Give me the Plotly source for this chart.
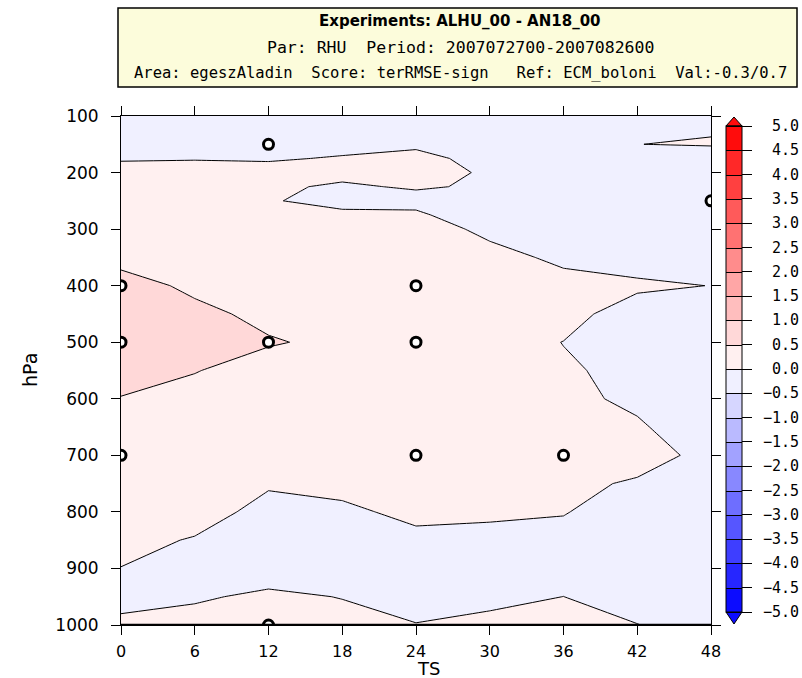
import plotly.graph_objects as go

# Forecast step (hours) and pressure levels (hPa) of the score field
ts = [0, 6, 12, 18, 24, 30, 36, 42, 48]
levels = [100, 150, 175, 200, 225, 250, 275, 300, 350, 400, 450, 500,
          550, 600, 650, 700, 750, 800, 850, 900, 950, 1000]

# terRMSE-sign score, one row per pressure level, one column per time step
score = [
    [-0.15, -0.12, -0.15, -0.15, -0.12, -0.15, -0.15, -0.10, -0.085],  # 100
    [-0.08, -0.06, -0.10, -0.06, -0.03, -0.10, -0.12, -0.003, 0.03],   # 150
    [-0.02, -0.01, -0.02, 0.015, 0.05, -0.06, -0.10, -0.08, -0.22],    # 175
    [0.08, 0.07, 0.07, 0.10, 0.12, -0.04, -0.10, -0.12, -0.15],        # 200
    [0.15, 0.13, 0.06, -0.05, 0.04, -0.05, -0.10, -0.12, -0.18],       # 225
    [0.20, 0.18, 0.025, -0.10, -0.13, -0.08, -0.12, -0.12, -0.20],     # 250
    [0.25, 0.22, 0.10, 0.067, 0.07, -0.28, -0.12, -0.12, -0.18],       # 275
    [0.30, 0.26, 0.18, 0.13, 0.12, -0.06, -0.10, -0.15, -0.15],        # 300
    [0.42, 0.35, 0.28, 0.22, 0.20, 0.08, -0.05, -0.30, -0.10],         # 350
    [0.60, 0.45, 0.36, 0.30, 0.30, 0.15, 0.08, 0.11, -0.01],           # 400
    [0.65, 0.56, 0.44, 0.38, 0.35, 0.22, 0.21, -0.30, -0.10],          # 450
    [0.65, 0.60, 0.52, 0.45, 0.35, 0.25, -0.01, -0.20, -0.15],         # 500
    [0.60, 0.51, 0.40, 0.38, 0.32, 0.25, 0.06, -0.13, -0.20],          # 550
    [0.49, 0.42, 0.34, 0.30, 0.28, 0.22, 0.10, -0.08, -0.25],          # 600
    [0.40, 0.35, 0.27, 0.22, 0.25, 0.20, 0.12, 0.05, -0.25],           # 650
    [0.35, 0.30, 0.20, 0.15, 0.20, 0.18, 0.12, 0.14, -0.10],           # 700
    [0.25, 0.22, 0.03, 0.06, 0.12, 0.12, 0.08, -0.04, -0.15],          # 750
    [0.15, 0.12, -0.09, -0.04, 0.05, 0.04, 0.01, -0.10, -0.15],        # 800
    [0.08, -0.02, -0.14, -0.12, -0.05, -0.07, -0.06, -0.12, -0.15],    # 850
    [-0.005, -0.08, -0.08, -0.08, -0.12, -0.10, -0.08, -0.12, -0.12],  # 900
    [-0.06, -0.02, 0.03, -0.005, -0.06, -0.05, 0.001, -0.10, -0.10],   # 950
    [0.04, 0.06, 0.08, 0.05, 0.005, 0.05, 0.04, 0.005, -0.10],         # 1000
]

# Points where the difference is significant
sig_ts = [12, 48, 0, 24, 0, 12, 24, 0, 24, 36, 12]
sig_p = [150, 250, 400, 400, 500, 500, 500, 700, 700, 700, 1000]

# Colour of each 0.5-wide band from -5 to 5
band_colors = [
    "#0c0cff", "#2626ff", "#3e3eff", "#5656ff", "#6e6eff",
    "#8888ff", "#a2a2ff", "#babaff", "#d6d6ff", "#f0f0ff",
    "#fff0f0", "#ffd8d8", "#ffbebe", "#ffa6a6", "#ff8c8c",
    "#ff7272", "#ff5a5a", "#ff4040", "#ff2828", "#ff0c0c",
]
cb_ticks = [-5.0, -4.5, -4.0, -3.5, -3.0, -2.5, -2.0, -1.5, -1.0, -0.5, 0.0,
            0.5, 1.0, 1.5, 2.0, 2.5, 3.0, 3.5, 4.0, 4.5, 5.0]
x_ticks = [0, 6, 12, 18, 24, 30, 36, 42, 48]
y_ticks = [100, 200, 300, 400, 500, 600, 700, 800, 900, 1000]

title_lines = [
    "<b>Experiments: ALHU_00 - AN18_00</b>",
    "Par: RHU\u00a0\u00a0Period: 2007072700-2007082600",
    "Area: egeszAladin\u00a0\u00a0Score: terRMSE-sign\u00a0\u00a0\u00a0"
    "Ref: ECM_boloni\u00a0\u00a0Val:-0.3/0.7",
]

FONT = "DejaVu Sans"
MONO = "DejaVu Sans Mono"

# stepped colour scale: one flat segment per band
n = len(band_colors)
colorscale = []
for i, c in enumerate(band_colors):
    colorscale.append([i / n, c])
    colorscale.append([(i + 1) / n, c])

# plot area in pixels inside the 802x678 page
W, H = 802, 678
L, R, T, B = 121, 91, 116, 53
pw, ph = W - L - R, H - T - B


def px(x):
    return (x - L) / pw


def py(y):
    return 1 - (y - T) / ph


cb_top, cb_bot = 126, 612
cb_y0, cb_y1 = py(cb_bot), py(cb_top)
cb_x0, cb_x1 = 726, 742

fig = go.Figure()

fig.add_trace(go.Contour(
    x=ts, y=levels, z=score,
    zmin=-5, zmax=5,
    colorscale=colorscale,
    contours=dict(start=-5, end=5, size=0.5, coloring="fill"),
    line=dict(color="black", width=1, smoothing=0),
    colorbar=dict(
        x=px(cb_x0), xanchor="left", xpad=0,
        y=(cb_y0 + cb_y1) / 2, yanchor="middle", ypad=0,
        len=cb_y1 - cb_y0, lenmode="fraction",
        thickness=cb_x1 - cb_x0,
        outlinecolor="black", outlinewidth=1,
        tickmode="array", tickvals=cb_ticks,
        ticks="outside", ticklen=10, tickcolor="black", tickwidth=1,
        showticklabels=False,
    ),
    hoverinfo="skip",
))

fig.add_trace(go.Scatter(
    x=sig_ts, y=sig_p, mode="markers",
    marker=dict(symbol="circle", size=10, color="white",
                line=dict(color="black", width=3)),
    showlegend=False, hoverinfo="skip", cliponaxis=True,
))

# invisible scale used to place the colour-bar labels
fig.add_trace(go.Scatter(x=[None], y=[None], xaxis="x2", yaxis="y2",
                         showlegend=False, hoverinfo="skip"))

axis_common = dict(
    showline=True, linecolor="black", linewidth=1, mirror="ticks",
    ticks="outside", ticklen=9, tickcolor="black", tickwidth=1,
    showgrid=False, zeroline=False,
)

fig.update_layout(
    width=W, height=H,
    margin=dict(l=L, r=R, t=T, b=B),
    paper_bgcolor="white", plot_bgcolor="rgba(0,0,0,0)",
    showlegend=False,
    font=dict(family=FONT, color="black"),
    xaxis=dict(range=[0, 48], tickmode="array", tickvals=x_ticks,
               tickfont=dict(family=FONT, size=16), ticklabelstandoff=3,
               **axis_common),
    yaxis=dict(range=[1000, 100], tickmode="array", tickvals=y_ticks,
               tickfont=dict(family=FONT, size=17), ticklabelstandoff=9,
               **axis_common),
    xaxis2=dict(domain=[0.9, 1.0], range=[0, 1], visible=False, anchor="y2"),
    yaxis2=dict(domain=[cb_y0, cb_y1], range=[-5, 5], visible=False,
                anchor="x2"),
)

# heavy base line along the 1000 hPa edge
fig.add_shape(type="line", xref="paper", yref="y", x0=0, x1=1,
              y0=1000, y1=1000, line=dict(color="black", width=2.5))

# header box
fig.add_shape(type="rect", xref="paper", yref="paper",
              x0=px(118), x1=px(797), y0=py(87), y1=py(8),
              fillcolor="#fcfcdb", line=dict(color="black", width=1.5),
              layer="above")

for text, yy, fam, size in zip(title_lines, [21, 47, 73],
                               [FONT, MONO, MONO], [15, 16.5, 15.5]):
    fig.add_annotation(text=text, xref="paper", yref="paper",
                       x=px(460), y=py(yy), xanchor="center",
                       yanchor="middle", showarrow=False,
                       font=dict(family=fam, size=size, color="black"))

# axis titles
fig.add_annotation(text="hPa", xref="paper", yref="paper", x=px(30),
                   y=py(370), textangle=-90, showarrow=False,
                   xanchor="center", yanchor="middle",
                   font=dict(family=FONT, size=19))
fig.add_annotation(text="TS", xref="paper", yref="paper", x=px(428),
                   y=py(668), showarrow=False, xanchor="center",
                   yanchor="middle", font=dict(family=FONT, size=18))

# colour-bar labels, right aligned
for v in cb_ticks:
    fig.add_annotation(text=f"{v:.1f}".replace("-", "\u2212"),
                       xref="paper", yref="y2", x=px(801), y=v,
                       xanchor="right", yanchor="middle", showarrow=False,
                       font=dict(family=MONO, size=15))

# end arrows of the colour bar
xm = (cb_x0 + cb_x1) / 2
fig.add_shape(type="path", xref="paper", yref="paper",
              path=(f"M {px(cb_x0)} {py(cb_top)} L {px(cb_x1)} {py(cb_top)} "
                    f"L {px(xm)} {py(cb_top - 9)} Z"),
              fillcolor=band_colors[-1], line=dict(color="black", width=1))
fig.add_shape(type="path", xref="paper", yref="paper",
              path=(f"M {px(cb_x0)} {py(cb_bot)} L {px(cb_x1)} {py(cb_bot)} "
                    f"L {px(xm)} {py(cb_bot + 12)} Z"),
              fillcolor=band_colors[0], line=dict(color="black", width=1))

fig.write_html("out.html")
